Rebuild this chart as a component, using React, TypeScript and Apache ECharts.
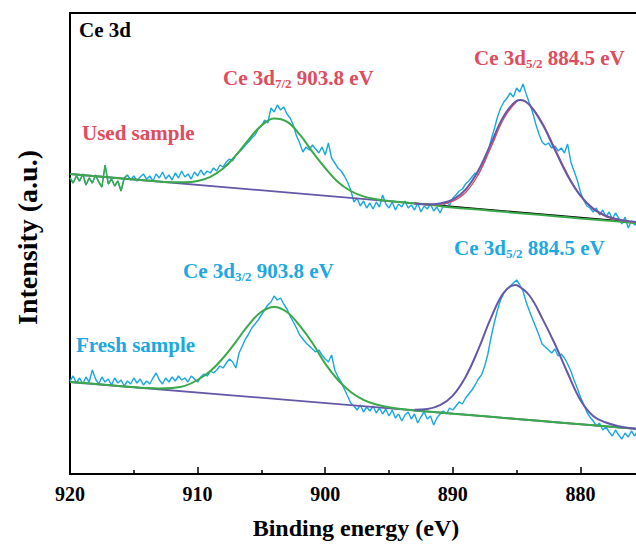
import React, { useEffect, useRef } from "react";
import * as echarts from "echarts";

// Raw spectra sampled every 0.25 eV from 920 eV downwards
const RAW_START = 920;
const RAW_STEP = 0.25;

const usedRaw = [
  296, 291, 298, 293, 300, 289, 296, 291, 299, 292,
  287, 309, 290, 295, 288, 293, 283, 296, 299, 294,
  298, 293, 297, 300, 295, 298, 293, 300, 296, 302,
  295, 299, 294, 301, 296, 303, 297, 300, 295, 302,
  298, 304, 299, 303, 301, 306, 303, 309, 307, 312,
  315, 313, 319, 322, 325, 329, 332, 336, 339, 345,
  348, 354, 351, 366, 362, 369, 364, 367, 360, 356,
  349, 338, 331, 322, 327, 324, 329, 325, 321, 327,
  319, 331, 316, 311, 306, 303, 298, 292, 284, 272,
  276, 268, 273, 266, 271, 265, 272, 267, 279, 270,
  266, 272, 264, 270, 267, 273, 266, 269, 264, 271,
  262, 268, 265, 270, 263, 267, 261, 268, 272, 269,
  276, 279, 283, 285, 290, 293, 297, 301, 299, 306,
  313, 322, 334, 345, 357, 366, 372, 376, 381, 377,
  386, 382, 390, 380, 371, 362, 350, 340, 332, 329,
  331, 326, 328, 323, 326, 321, 330, 312, 303, 294,
  282, 274, 268, 266, 262, 266, 259, 264, 257, 262,
  255, 261, 256, 250, 257, 246, 253, 249, 251,
];

const freshRaw = [
  93, 98, 91, 96, 90, 97, 92, 104, 95, 90,
  97, 92, 95, 89, 96, 91, 94, 88, 93, 90,
  96, 91, 95, 89, 93, 90, 96, 101, 94, 90,
  96, 92, 97, 93, 98, 94, 96, 92, 98, 95,
  92, 97, 100, 98, 103, 101, 104, 108, 106, 111,
  115, 112, 106, 121, 128, 135, 140, 146, 150, 154,
  159, 164, 169, 172, 178, 174, 176, 170, 165, 158,
  152, 146, 139, 135, 131, 128, 125, 122, 124, 119,
  115, 112, 119, 104, 97, 92, 85, 78, 71, 68,
  64, 69, 62, 67, 63, 68, 61, 66, 60, 65,
  58, 64, 56, 60, 53, 59, 62, 55, 60, 51,
  57, 62, 55, 58, 49, 56, 60, 63, 60, 66,
  64, 68, 72, 70, 76, 80, 84, 89, 95, 99,
  108, 120, 137, 151, 164, 174, 181, 185, 188, 191,
  194, 189, 183, 172, 163, 155, 147, 139, 130, 127,
  124, 121, 125, 118, 120, 116, 110, 103, 94, 86,
  77, 70, 62, 57, 53, 48, 51, 44, 47, 42,
  38, 44, 39, 35, 41, 37, 43, 38, 44,
];

// Used sample: background and fitted peaks
const usedBaseE = [920, 893, 875];
const usedBaseV = [300, 270.6, 251];

const usedFit1E = [920, 918, 916, 914, 912, 911, 910, 909, 908, 907, 906, 905, 904, 903, 902, 901, 900, 899, 898, 897, 896, 895, 894, 893, 892, 890, 888, 886, 884, 882, 880, 878, 876, 875];
const usedFit1V = [300, 297.8, 295.6, 293.6, 291.7, 291.7, 293, 297.2, 305.5, 318.6, 334.4, 348.4, 355.5, 352.3, 339.6, 322.1, 306, 292, 283, 277.6, 274.8, 272.9, 271.8, 270.6, 269.5, 266.5, 264.4, 262.2, 260, 257.8, 255.6, 253.5, 251.3, 250.2];

const usedFit2E = [893, 892, 891, 890, 889, 888, 887, 886, 885, 884.7, 884, 883, 882, 881, 880, 879, 878, 877, 876, 875];
const usedFit2V = [270.6, 269.6, 270.6, 274.3, 284.3, 303.4, 330.7, 358, 373.2, 373.9, 369.1, 350.4, 324.1, 298.3, 278.3, 265.4, 258.2, 254.6, 252.5, 251];
const usedFit2RedV = [270.6, 269.5, 269.8, 272.8, 281.5, 299.5, 327, 355.5, 372.5, 373.6, 369.5, 351.5, 325.5, 299.5, 278.5, 264.8, 257.5, 254, 252.2, 251];

// Fresh sample: background and fitted peaks
const freshBaseE = [920, 875];
const freshBaseV = [92, 44.5];

const freshFit1E = [920, 918, 916, 914, 913, 912, 911, 910, 909, 908, 907, 906, 905, 904, 903, 902, 901, 900, 899, 898, 897, 896, 895, 894, 893, 891, 889, 887, 885, 883, 881, 879, 877, 875];
const freshFit1V = [92, 90, 87.8, 86, 85.5, 86, 88.1, 94, 103, 116, 132.2, 149.2, 162.2, 167.1, 162, 148.3, 131, 110.4, 94, 82, 74.2, 69.5, 66.7, 64.9, 63.5, 61.4, 59.3, 57.2, 55, 52.9, 50.8, 48.7, 46.6, 44.5];

const freshFit2E = [893, 892, 891, 890, 889, 888, 887, 886, 885.1, 885, 884, 883, 882, 881, 880, 879, 878, 877, 876, 875];
const freshFit2V = [64.2, 64.9, 68.8, 78.4, 97, 124.6, 156.3, 181.3, 189, 188.8, 178.5, 155.9, 130, 101, 74, 58, 51.5, 47.8, 45.8, 44.6];

const X_MIN = 870;
const X_MAX = 920;
const X_INTERVAL = 10;

const FONT = "'Times New Roman', 'Liberation Serif', serif";
const BLUE = "#1aa7e1";
const GREEN = "#3aa94a";
const PURPLE = "#6459a8";
const RED_LINE = "#e0505f";
const RED_TEXT = "#e04b5e";
const BLUE_TEXT = "#1ca8e2";

const zip = (xs: number[], ys: number[]) => xs.map((x, i) => [x, ys[i]]);
const rawPairs = (vals: number[]) => vals.map((v, i) => [RAW_START - i * RAW_STEP, v]);

function line(name: string, data: number[][], color: string, width: number, smooth: boolean | number = false) {
  return {
    name,
    type: "line",
    data,
    symbol: "none",
    smooth,
    clip: true,
    lineStyle: { color, width },
    itemStyle: { color },
    emphasis: { disabled: true },
  };
}

function plainText(x: number, y: number, text: string, color: string, size = 21) {
  return {
    type: "text",
    x,
    y,
    silent: true,
    style: {
      text,
      fill: color,
      fontSize: size,
      fontWeight: "bold",
      fontFamily: FONT,
      align: "left",
      verticalAlign: "middle",
    },
  };
}

function peakText(x: number, y: number, sub: string, rest: string, color: string) {
  return {
    type: "text",
    x,
    y,
    silent: true,
    style: {
      text: `{m|Ce 3d}{s|${sub}}{m|${rest}}`,
      fill: color,
      fontSize: 21,
      fontWeight: "bold",
      fontFamily: FONT,
      align: "left",
      verticalAlign: "top",
      rich: {
        m: { fill: color, fontSize: 21, fontWeight: "bold", fontFamily: FONT, lineHeight: 24 },
        s: { fill: color, fontSize: 13, fontWeight: "bold", fontFamily: FONT, lineHeight: 6, verticalAlign: "bottom" },
      },
    },
  };
}

export default function App() {
  const ref = useRef<HTMLDivElement>(null);

  useEffect(() => {
    if (!ref.current) return;
    const chart = echarts.init(ref.current, undefined, { renderer: "svg" });
    const usedPairs = rawPairs(usedRaw);
    const usedBase = zip(usedBaseE, usedBaseV);
    const option = {
      animation: false,
      backgroundColor: "#ffffff",
      grid: {
        left: 70,
        top: 13,
        right: -72,
        bottom: 70,
        outerBoundsMode: "none",
        containLabel: false,
        show: true,
        borderColor: "#000",
        borderWidth: 2,
        backgroundColor: "transparent",
      },
      xAxis: {
        type: "value",
        inverse: true,
        min: X_MIN,
        max: X_MAX,
        interval: X_INTERVAL,
        name: "Binding energy (eV)",
        nameLocation: "middle",
        nameGap: 42,
        nameTextStyle: { fontFamily: FONT, fontWeight: "bold", fontSize: 24, color: "#000", padding: [0, 66, 0, 0] },
        axisLine: { show: true, onZero: false, lineStyle: { color: "#000", width: 2 } },
        axisTick: { show: true, inside: true, length: 7, lineStyle: { color: "#000", width: 1.5 } },
        minorTick: { show: true, splitNumber: 2, length: 4, lineStyle: { color: "#000", width: 1.5 } },
        axisLabel: {
          fontFamily: FONT,
          fontWeight: "bold",
          fontSize: 20,
          color: "#000",
          margin: 10,
          showMinLabel: false,
          formatter: (v: number) => (v < 875 ? "" : String(v)),
        },
        splitLine: { show: false },
      },
      yAxis: {
        type: "value",
        min: 0,
        max: 461,
        name: "Intensity (a.u.)",
        nameLocation: "middle",
        nameGap: 29,
        nameTextStyle: { fontFamily: FONT, fontWeight: "bold", fontSize: 28, color: "#000", padding: [0, 0, 0, 12] },
        axisLine: { show: true, onZero: false, lineStyle: { color: "#000", width: 2 } },
        axisTick: { show: false },
        axisLabel: { show: false },
        splitLine: { show: false },
      },
      series: [
        line("used raw", usedPairs, BLUE, 1.4),
        line("used raw start", usedPairs.slice(0, 19), GREEN, 1.4),
        line("used background right", usedBase.slice(1), "#000", 1.6),
        line("used background left", usedBase.slice(0, 2), PURPLE, 1.8),
        line("used fit 3d7/2", zip(usedFit1E, usedFit1V), GREEN, 2, 0.4),
        line("used fit 3d5/2 red", zip(usedFit2E, usedFit2RedV), RED_LINE, 1.4, 0.4),
        line("used fit 3d5/2", zip(usedFit2E, usedFit2V), PURPLE, 2, 0.4),
        line("fresh raw", rawPairs(freshRaw), BLUE, 1.4),
        line("fresh background", zip(freshBaseE, freshBaseV), PURPLE, 1.8),
        line("fresh fit 3d3/2", zip(freshFit1E, freshFit1V), GREEN, 2, 0.4),
        line("fresh fit 3d5/2", zip(freshFit2E, freshFit2V), PURPLE, 2, 0.4),
      ],
      graphic: [
        plainText(79, 30, "Ce 3d", "#000"),
        plainText(82, 133, "Used sample", RED_TEXT),
        plainText(76, 345, "Fresh sample", BLUE_TEXT),
        peakText(223, 66, "7/2", " 903.8 eV", RED_TEXT),
        peakText(474, 46, "5/2", " 884.5 eV", RED_TEXT),
        peakText(183, 259, "3/2", " 903.8 eV", BLUE_TEXT),
        peakText(454, 236, "5/2", " 884.5 eV", BLUE_TEXT),
      ],
    };
    chart.setOption(option as any);
    return () => chart.dispose();
  }, []);

  return (
    <div
      ref={ref}
      style={{ position: "fixed", left: 0, top: 0, width: 636, height: 544, overflow: "hidden", background: "#fff" }}
    />
  );
}
